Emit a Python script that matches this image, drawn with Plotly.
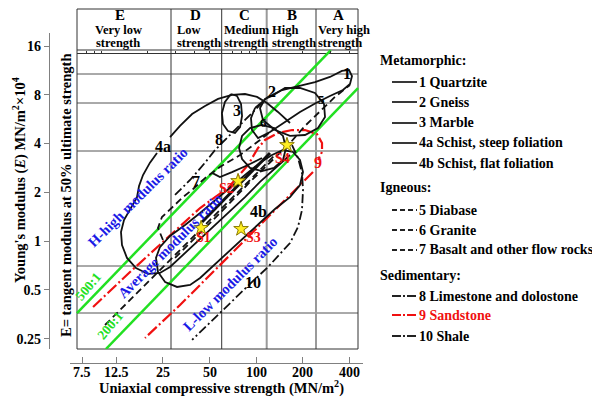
import math
import plotly.graph_objects as go

W, H = 592, 397
FONT = "Liberation Serif"

# ---------------- data: strength (MN/m^2) and modulus (MN/m^2 x 10^4) ----------------
x_tick_vals = [7.5, 12.5, 25, 50, 100, 200, 400]
x_tick_text = ["7.5", "12.5", "25", "50", "100", "200", "400"]
y_tick_vals = [0.25, 0.5, 1, 2, 4, 8, 16]
y_tick_text = ["0.25", "0.5", "1", "2", "4", "8", "16"]
header_minor_ticks = [8, 9, 10, 20, 30, 40, 50, 60, 70, 80, 90, 100, 200, 300, 400]

ratio500_x = [6.96, 303]
ratio500_y = [0.36, 15.1]
ratio200_x = [10.7, 454]
ratio200_y = [0.216, 8.8]

sand_upper_x = [8.84, 15.31, 25.8, 43.4, 65.67, 88.47, 102.7, 113.9, 138.1, 170.2, 206.4, 246.7, 265.8, 265.8, 250.4]
sand_upper_y = [0.393, 0.646, 1.017, 1.602, 2.13, 2.95, 3.76, 4.21, 4.65, 4.85, 4.85, 4.58, 4.03, 3.55, 3.17]
sand_lower_x = [232.5, 142.3, 84.6, 50.3, 32.2, 19.14]
sand_lower_y = [2.67, 1.672, 1.017, 0.619, 0.404, 0.253]

schist4a_x = [165.2, 138.1, 117.3, 101.2, 84.6, 69.75, 56.68, 46.7, 38.53, 32.2, 27.75, None,
              22.87, 20.6, 18.58, 17.51, 16.99, 15.31, 14.00, 13.39, 13.59, 14.64, 16.74, 19.99,
              23.9, 27.75, 34.7, 43.4, 54.2, 67.7, 84.6, 105.7, 132.1, 165.2]
schist4a_y = [5.36, 6.27, 7.12, 7.76, 8.09, 7.98, 7.54, 6.82, 6.09, 5.14, 4.39, None,
              3.50, 3.05, 2.56, 2.19, 1.87, 1.557, 1.351, 1.139, 0.947, 0.788, 0.683, 0.628,
              0.637, 0.693, 0.846, 1.046, 1.259, 1.535, 1.87, 2.32, 2.79, 3.40]

marble_x = [68.72, 62.8, 60.06, 60.96, 65.67, 72.9, 78.6, 80.97, 79.78, 75.10, 68.72]
marble_y = [8.09, 7.22, 6.18, 5.29, 4.78, 4.65, 5.06, 5.92, 7.02, 7.87, 8.09]

quartzite_x = [98.2, 119.1, 146.6, 186.0, 239.5, 299, 357.5, 397.0, 415.2, 403, 362.9, 299,
               243.1, 191.6, 153.3, 122.7, 102.7, 93.85, 92.47, 98.2]
quartzite_y = [6.63, 7.76, 8.56, 9.07, 9.59, 10.31, 11.22, 11.38, 10.45, 9.33, 8.56, 7.87,
               7.12, 6.27, 5.43, 4.71, 4.33, 4.85, 5.75, 6.63]

gneiss_x = [126.4, 153.3, 191.6, 239.5, 273.8, 278, 250.4, 206.4, 165.2, 132.1, 110.5, 105.7, 113.9, 126.4]
gneiss_y = [7.87, 8.81, 8.81, 8.21, 7.02, 5.83, 4.99, 4.52, 4.46, 4.85, 5.59, 6.63, 7.54, 7.87]

granite_loop_x = [155.6, 148.8, 130.1, 108.9, 91.1, 80.97, 77.43, 80.97, 91.1, 108.9, 130.1, 148.8, 155.6]
granite_loop_y = [3.76, 3.17, 2.83, 2.71, 2.83, 3.21, 3.76, 4.46, 4.99, 5.21, 4.99, 4.46, 3.76]

schist4b_x = [23.9, 22.53, 23.21, 25.8, 30.80, 37.4, 43.4, 54.2, 67.7, 84.6, 105.7, 132.1, 165.2,
              191.6, 200.4, 191.6, 172.8, 148.8, 126.4, 105.7, 84.6, 67.7, 54.2, 43.4, 34.7, 27.75, 23.9]
schist4b_y = [0.920, 0.788, 0.646, 0.560, 0.522, 0.537, 0.593, 0.723, 0.882, 1.077, 1.313, 1.58, 1.87,
              2.22, 2.67, 3.17, 3.55, 3.65, 3.40, 3.05, 2.56, 2.13, 1.795, 1.493, 1.259, 1.077, 0.920]

core_x = [44.71, 122.7]
core_y = [1.313, 3.50]

shale_x = [170.2, 186.0, 197.4, 200.4, 197.4, 186.0, 165.2, 142.3, 119.1, 91.1, 67.7, 50.3, 38.53]
shale_y = [3.92, 3.26, 2.64, 2.07, 1.557, 1.224, 0.974, 0.834, 0.693, 0.545, 0.416, 0.318, 0.246]

limestone_x = [29.9, 37.4, 46.7, 54.2, 64.70, 78.6, 93.85, 110.5]
limestone_y = [1.93, 2.385, 3.05, 3.65, 4.33, 5.21, 6.18, 7.22]

igneous_low_x = [10.56, 15.31, 23.9, 37.4, 58.3, 91.1, 132.1]
igneous_low_y = [0.304, 0.434, 0.664, 1.017, 1.557, 2.385, 3.40]

basalt_x = [24.99, 23.21, 24.62, 28.59, 33.67, 39.11, 46.7, 58.3, 78.6, 105.7, 132.1]
basalt_y = [1.017, 1.207, 1.410, 1.625, 1.87, 2.10, 2.45, 2.87, 3.40, 4.21, 4.99]

diabase_x = [29.9, 43.4, 62.8, 91.1, 132.1, 165.2, 206.4, 258, 322, 403]
diabase_y = [0.788, 1.123, 1.602, 2.32, 3.26, 4.03, 5.14, 6.36, 7.76, 9.20]

hook_x = [51.82, 58.3, 69.75, 88.47, 108.9]
hook_y = [2.64, 2.49, 2.67, 2.95, 3.26]

sample_names = ["S1", "S2", "S3", "S4"]
sample_x = [44.05, 76.3, 79.78, 157.9]
sample_y = [1.207, 2.35, 1.19, 3.92]

rock_labels = ["1", "2", "3", "4a", "4b", "5", "6", "7", "8", "9", "10"]
rock_label_x = [385, 126, 75, 25, 103, 262, 112, 41, 57.5, 250, 95]
rock_label_y = [10.9, 8.44, 6.36, 3.86, 1.535, 7.43, 5.36, 2.35, 4.21, 3.05, 0.56]

zones = ["E", "D", "C", "B", "A"]
zone_names = [("Very low", "strength"), ("Low", "strength"), ("Medium", "strength"),
              ("High", "strength"), ("Very high", "strength")]

legend_groups = ["Metamorphic:", "Igneous:", "Sedimentary:"]
legend_items = ["1 Quartzite", "2 Gneiss", "3 Marble", "4a Schist, steep foliation",
                "4b Schist, flat foliation", "5 Diabase", "6 Granite", "7 Basalt and other flow rocks",
                "8 Limestone and dolostone", "9 Sandstone", "10 Shale"]

# ---------------- styling ----------------
BLACK = "#111111"
RED = "#f01010"
GREEN = "#22e022"
BLUE = "#1a1ae6"
DASH = "7px,4px"
DASHDOT = "9px,3px,2px,3px"
RDASHDOT = "12px,3px,2px,3px"


def px(v):
    return v / W


def py(v):
    return 1 - v / H


fig = go.Figure()


def line(xs, ys, color=BLACK, width=1.8, dash="solid"):
    fig.add_trace(go.Scatter(x=xs, y=ys, mode="lines", connectgaps=False,
                             line=dict(color=color, width=width, dash=dash),
                             hoverinfo="skip", showlegend=False))


line(ratio500_x, ratio500_y, GREEN, 2.5)
line(ratio200_x, ratio200_y, GREEN, 2.5)
line(sand_upper_x, sand_upper_y, RED, 2.2, RDASHDOT)
line(sand_lower_x, sand_lower_y, RED, 2.2, RDASHDOT)
line(schist4a_x, schist4a_y)
line(marble_x, marble_y)
line(quartzite_x, quartzite_y)
line(gneiss_x, gneiss_y)
line(granite_loop_x, granite_loop_y)
line(schist4b_x, schist4b_y)
line(core_x, core_y, width=3)
line(shale_x, shale_y, dash=DASHDOT)
line(limestone_x, limestone_y, dash=DASHDOT)
line(igneous_low_x, igneous_low_y, dash=DASH)
line(basalt_x, basalt_y, dash=DASH)
line(diabase_x, diabase_y, dash=DASH)
line(hook_x, hook_y)

fig.add_trace(go.Scatter(x=sample_x, y=sample_y, mode="markers",
                         marker=dict(symbol="star", size=11, color="#ffee22",
                                     line=dict(color="#8a7a00", width=1)),
                         hoverinfo="skip", showlegend=False))
# invisible trace for header tick axis
fig.add_trace(go.Scatter(x=[10], y=[1], xaxis="x2", mode="markers",
                         marker=dict(opacity=0), hoverinfo="skip", showlegend=False))

annotations = []


def ann(x, y, text, size=13, color="black", xanchor="center", angle=0, ref="paper", **kw):
    if ref == "paper":
        d = dict(x=px(x), y=py(y), xref="paper", yref="paper")
    elif ref == "xpaper":
        d = dict(x=math.log10(x), y=py(y), xref="x", yref="paper")
    else:
        d = dict(x=math.log10(x), y=math.log10(y), xref="x", yref="y")
    d.update(text="<b>%s</b>" % text, showarrow=False, xanchor=xanchor, yanchor="middle",
             textangle=angle, font=dict(family=FONT, size=size, color=color))
    d.update(kw)
    annotations.append(d)


# x tick labels (placed just under the axis line)
for v, t in zip(x_tick_vals, x_tick_text):
    ann(v, 372, t, size=14, ref="xpaper")

# rock labels
for name, xv, yv in zip(rock_labels, rock_label_x, rock_label_y):
    ann(xv, yv, name, size=16 if name not in ("5", "6") else 13,
        color=RED if name == "9" else "black", ref="data")

# samples
shifts = [(2, -10), (-12, -7), (12, -9), (-4, -13)]
for name, xv, yv, (dx, dy) in zip(sample_names, sample_x, sample_y, shifts):
    ann(xv, yv, name, size=14, color=RED, ref="data", xshift=dx, yshift=dy)

# modulus ratio texts
ann(17.24, 1.87, "H-high modulus ratio", size=14.5, color=BLUE, angle=-45, ref="data")
ann(27.75, 0.934, "Average modulus ratio", size=14.5, color=BLUE, angle=-45, ref="data")
ann(67.7, 0.545, "L-low modulus ratio", size=14.5, color=BLUE, angle=-45, ref="data")
ann(8.2, 0.529, "500:1", size=13.5, color=GREEN, angle=-50, ref="data")
ann(11.37, 0.304, "200:1", size=13.5, color=GREEN, angle=-50, ref="data")

# header
letter_x = [120, 195, 244, 292, 338]
name_x = [118, 175, 222, 270, 316]
for i, (z, (n1, n2)) in enumerate(zip(zones, zone_names)):
    ann(letter_x[i], 15, z, size=15)
    anchor = "center" if i == 0 else "left"
    ann(name_x[i], 30.5, n1, size=12.5, xanchor=anchor)
    ann(name_x[i], 43.5, n2, size=12.5, xanchor=anchor)

# axis titles
ann(221, 387, "Uniaxial compressive strength (MN/m<sup>2</sup>)", size=14.5)
ann(19, 180, "Young's modulus (<i>E</i>) MN/m<sup>2</sup>×10<sup>4</sup>", size=14.5, angle=-90)
ann(66, 195, "E= tangent modulus at 50% ultimate strength", size=14.5, angle=-90)

# legend
shapes = []
group_y = [60, 188, 275]
item_y = [82, 102, 123, 143, 163, 210, 230, 250, 296, 315, 336]
item_dash = ["solid"] * 5 + ["5px,3px"] * 3 + ["9px,2px,2px,2px"] * 3
for g, gy in zip(legend_groups, group_y):
    ann(378, gy, g, size=14, xanchor="left")
for i, (it, iy) in enumerate(zip(legend_items, item_y)):
    col = RED if it.startswith("9") else "black"
    ann(417, iy, it, size=14, color=col, xanchor="left")
    shapes.append(dict(type="line", xref="paper", yref="paper", x0=px(392), x1=px(417),
                       y0=py(iy), y1=py(iy),
                       line=dict(color=RED if it.startswith("9") else "#222222", width=1.8,
                                 dash=item_dash[i])))


# frame, header and grid
def seg(x0, y0, x1, y1, color="black", width=1):
    shapes.append(dict(type="line", xref="paper", yref="paper", x0=px(x0), x1=px(x1),
                       y0=py(y0), y1=py(y1), line=dict(color=color, width=width), layer="below"))


for gy in [74, 103, 151, 266, 313]:
    seg(77, gy, 358, gy, "#555555", 1)
for gx in [171, 221.7]:
    seg(gx, 9, gx, 349, "#333333", 1)
for gx in [266.7, 316]:
    seg(gx, 9, gx, 349, "#9a9a9a", 2)
seg(77, 50, 358, 50, "#333333", 1)
seg(77, 53.5, 358, 53.5, "#333333", 1)
shapes.append(dict(type="rect", xref="paper", yref="paper", x0=px(77), x1=px(358),
                   y0=py(349), y1=py(9), line=dict(color="#333333", width=1), layer="below"))

fig.update_layout(
    width=W, height=H, margin=dict(l=0, r=0, t=0, b=0),
    paper_bgcolor="white", plot_bgcolor="rgba(0,0,0,0)", showlegend=False,
    xaxis=dict(type="log", domain=[70 / W, 363 / W], range=[0.7976, 2.6892],
               anchor="free", position=1 - 363 / H, showline=True, linecolor="#808080",
               linewidth=1.3, ticks="inside", ticklen=6, tickcolor="#808080", tickwidth=1.3,
               tickvals=x_tick_vals, showticklabels=False,
               showgrid=False, zeroline=False),
    xaxis2=dict(type="log", overlaying="x", range=[0.7976, 2.6892], anchor="free",
                position=1 - 50 / H, side="bottom", showline=False, ticks="outside",
                ticklen=3, tickcolor="#333333", tickvals=header_minor_ticks,
                showticklabels=False, showgrid=False, zeroline=False),
    yaxis=dict(type="log", domain=[1 - 349 / H, 1 - 33 / H], range=[-0.6651, 1.2843],
               anchor="free", position=49 / W, showline=True, linecolor="#808080",
               linewidth=1.3, ticks="outside", ticklen=5, tickcolor="#808080", tickwidth=1.3,
               tickvals=y_tick_vals, ticktext=["<b>%s</b>" % t for t in y_tick_text],
               tickfont=dict(family=FONT, size=14, color="black"),
               showgrid=False, zeroline=False),
    annotations=annotations,
    shapes=shapes,
)

fig.write_html("out.html")
